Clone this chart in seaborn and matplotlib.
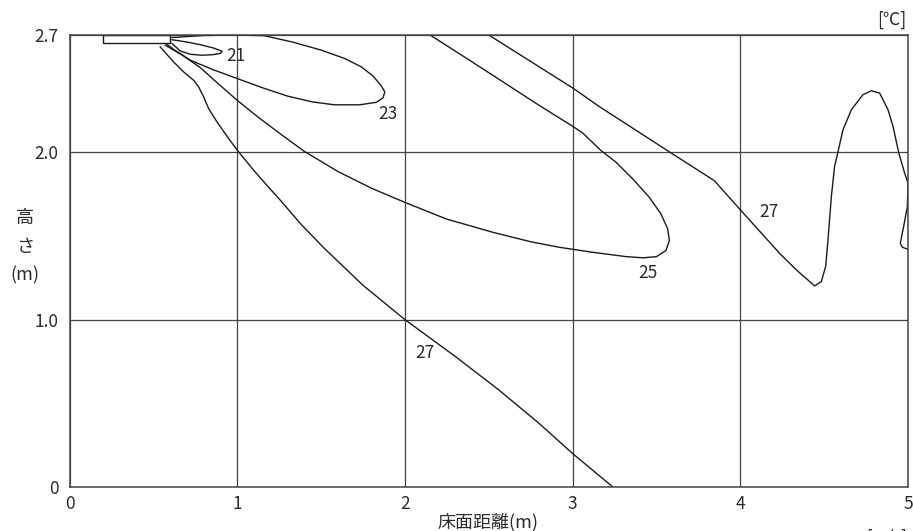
import matplotlib
matplotlib.use("Agg")
import matplotlib.pyplot as plt
import seaborn as sns
import pandas as pd

# ---- data ----
c21_x = [0.61, 0.70, 0.78, 0.86, 0.91, 0.90, 0.85, 0.79, 0.72, 0.66, 0.61]
c21_y = [2.672, 2.658, 2.642, 2.622, 2.603, 2.590, 2.582, 2.579, 2.585, 2.605, 2.650]

c23_x = [0.61, 0.80, 1.00, 1.16, 1.33, 1.50, 1.64, 1.74, 1.81, 1.86, 1.88, 1.87, 1.83, 1.73,
         1.58, 1.45, 1.30, 1.15, 1.00, 0.85, 0.72, 0.62, 0.58]
c23_y = [2.685, 2.697, 2.700, 2.696, 2.658, 2.610, 2.560, 2.510, 2.455, 2.395, 2.360, 2.325,
         2.298, 2.283, 2.283, 2.300, 2.335, 2.385, 2.440, 2.495, 2.550, 2.615, 2.645]

c25_x = [0.57, 0.68, 0.78, 0.88, 1.00, 1.13, 1.27, 1.40, 1.60, 1.80, 2.00, 2.25, 2.53, 2.75,
         2.92, 3.12, 3.32, 3.42, 3.50, 3.556, 3.577, 3.567, 3.527, 3.457, 3.358, 3.259, 3.169,
         3.06, 3.00, 2.80, 2.60, 2.40, 2.15]
c25_y = [2.640, 2.575, 2.505, 2.415, 2.310, 2.205, 2.100, 2.005, 1.885, 1.785, 1.700, 1.600,
         1.520, 1.465, 1.432, 1.402, 1.376, 1.369, 1.376, 1.412, 1.472, 1.542, 1.631, 1.731,
         1.841, 1.940, 2.010, 2.115, 2.155, 2.280, 2.410, 2.540, 2.700]

c27a_x = [0.54, 0.62, 0.68, 0.74, 0.77, 0.80, 0.83, 0.88, 0.95, 1.01, 1.10, 1.17, 1.26, 1.38,
          1.52, 1.75, 2.00, 2.30, 2.56, 2.80, 3.00, 3.24]
c27a_y = [2.630, 2.540, 2.480, 2.430, 2.390, 2.330, 2.260, 2.180, 2.080, 2.000, 1.890, 1.810,
          1.710, 1.570, 1.425, 1.205, 1.000, 0.780, 0.580, 0.380, 0.200, 0.000]

c27b_x = [2.50, 3.00, 3.16, 3.58, 3.845, 4.00, 4.234, 4.334, 4.414, 4.443, 4.483, 4.509,
          4.523, 4.543, 4.562, 4.582, 4.612, 4.662, 4.731, 4.781, 4.831, 4.881, 4.911, 4.944,
          4.980, 5.000, 4.996, 4.974, 4.954, 4.966, 5.000]
c27b_y = [2.700, 2.384, 2.272, 2.000, 1.830, 1.656, 1.396, 1.297, 1.227, 1.201, 1.227, 1.317,
          1.476, 1.735, 1.914, 2.000, 2.133, 2.253, 2.343, 2.367, 2.353, 2.253, 2.153, 2.000,
          1.875, 1.815, 1.675, 1.556, 1.456, 1.432, 1.420]

unit_x = [0.2, 0.6]
unit_y = [2.65, 2.7]

label_text = ["21", "23", "25", "27", "27"]
label_x = [0.99, 1.90, 3.45, 2.12, 4.17]
label_y = [2.575, 2.23, 1.28, 0.80, 1.64]

x_ticks = [0, 1, 2, 3, 4, 5]
x_tick_labels = ["0", "1", "2", "3", "4", "5"]
y_ticks = [0, 1.0, 2.0, 2.7]
y_tick_labels = ["0", "1.0", "2.0", "2.7"]

# ---- plotting ----
sns.set_theme(style="white")
plt.rcParams["font.family"] = ["Noto Sans CJK JP", "DejaVu Sans"]
TXT = "#2a2a2a"

fig = plt.figure(figsize=(9.13, 5.31), dpi=100)
ax = fig.add_axes([69.5 / 913, 1 - 487 / 531, (908 - 69.5) / 913, (487 - 35) / 531])

curves = [(c21_x, c21_y), (c23_x, c23_y), (c25_x, c25_y), (c27a_x, c27a_y), (c27b_x, c27b_y)]
for cx, cy in curves:
    df = pd.DataFrame({"x": cx, "y": cy})
    sns.lineplot(data=df, x="x", y="y", sort=False, estimator=None, color="#1a1a1a",
                 linewidth=1.0, ax=ax)

# indoor unit outline
rect = pd.DataFrame({"x": [unit_x[0], unit_x[1], unit_x[1], unit_x[0], unit_x[0]],
                     "y": [unit_y[1], unit_y[1], unit_y[0], unit_y[0], unit_y[1]]})
sns.lineplot(data=rect, x="x", y="y", sort=False, estimator=None, color="#1a1a1a",
             linewidth=1.0, ax=ax)

for t, lx, ly in zip(label_text, label_x, label_y):
    ax.text(lx, ly, t, ha="center", va="center", fontsize=12.5, color=TXT)

ax.set_xlim(0, 5)
ax.set_ylim(0, 2.7)
ax.set_xticks(x_ticks)
ax.set_xticklabels(x_tick_labels)
ax.set_yticks(y_ticks)
ax.set_yticklabels(y_tick_labels)
ax.tick_params(axis="both", length=0, labelsize=12.5, colors=TXT)
ax.tick_params(axis="x", pad=6)
ax.tick_params(axis="y", pad=8)
ax.set_xlabel("")
ax.set_ylabel("")
ax.grid(True, color="#444444", linewidth=0.9)
for s in ax.spines.values():
    s.set_color("#444444")
    s.set_linewidth(1.1)
    s.set_visible(True)

fig.text(488 / 913, 1 - 522 / 531, "床面距離(m)", ha="center", va="center", fontsize=13,
         color=TXT)
fig.text(25 / 913, 1 - 247 / 531, "高\nさ\n(m)", ha="center", va="center", fontsize=13,
         color=TXT, linespacing=1.75)
fig.text(906 / 913, 1 - 20 / 531, "[℃]", ha="right", va="center", fontsize=12.5,
         color=TXT)
fig.text(907 / 913, 1 - 529 / 531, "[m/s]", ha="right", va="top", fontsize=12,
         color=TXT)

fig.savefig("out.png", dpi=100, facecolor="white")
